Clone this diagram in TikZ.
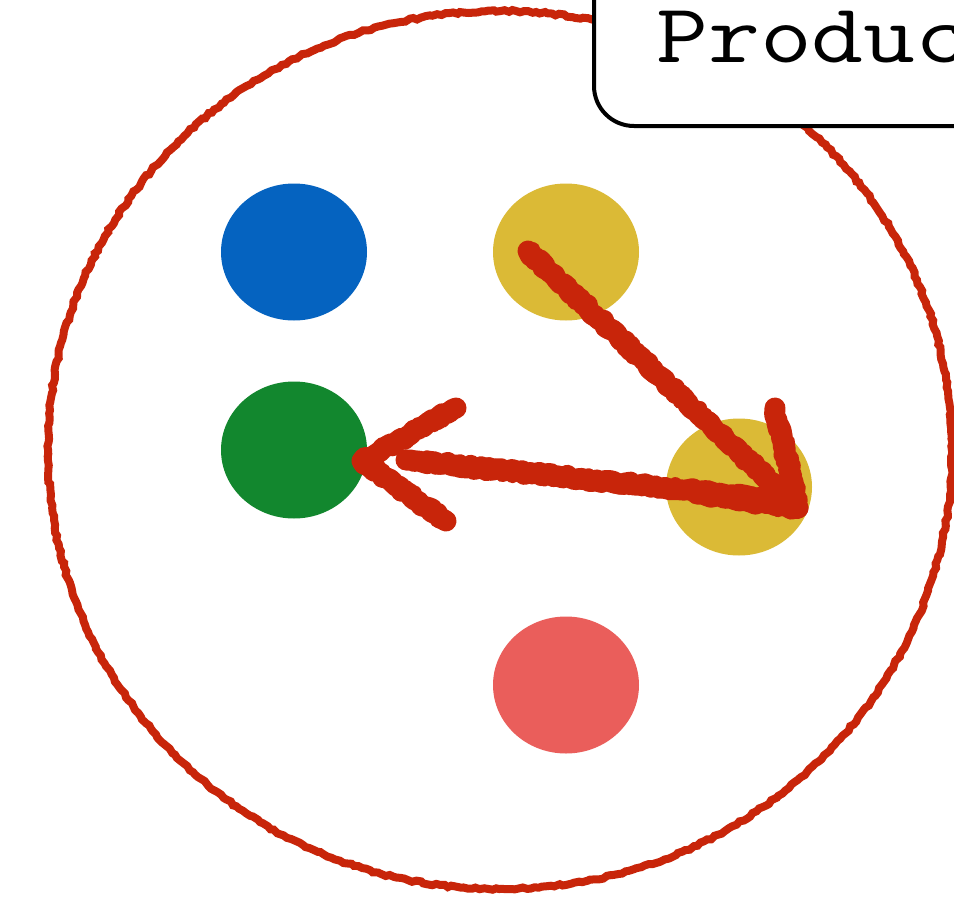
\documentclass[tikz,border=0pt]{standalone}
\usepackage{fontspec}
\usetikzlibrary{shapes.geometric,decorations.pathmorphing,calc}
\definecolor{dotblue}{RGB}{5,99,192}
\definecolor{dotyellow}{RGB}{219,186,54}
\definecolor{dotgreen}{RGB}{18,135,46}
\definecolor{dotpink}{RGB}{234,94,91}
\definecolor{chalkred}{RGB}{200,37,10}
\begin{document}
\begin{tikzpicture}[x=1pt,y=-1pt,
  dot/.style={ellipse,minimum width=146pt,minimum height=137pt,inner sep=0pt,draw=none},
  ringline/.style={draw=chalkred,line width=8pt,decorate,decoration={random steps,segment length=4pt,amplitude=1.1pt}},
  chalk/.style={draw=chalkred,line width=21pt,line cap=round,line join=round,decorate,decoration={random steps,segment length=4pt,amplitude=2pt}},
  chalkedge/.style={draw=chalkred,line width=14pt,line cap=round,line join=round,decorate,decoration={random steps,segment length=3pt,amplitude=5pt}},
  labelbox/.style={draw=black,line width=4pt,fill=white,rounded corners=40pt,minimum width=500pt,minimum height=220pt,inner sep=0pt}]
\useasboundingbox (0,0) rectangle (954,897);
\clip (0,0) rectangle (954,897);
\fill[white] (0,0) rectangle (954,897);
% big ring
\draw[ringline] (500,450) ellipse [x radius=452, y radius=439];
% dots
\node[dot,fill=dotblue] (blue) at (294,252) {};
\node[dot,fill=dotyellow] (ytop) at (566,252) {};
\node[dot,fill=dotgreen] (green) at (294,450) {};
\node[dot,fill=dotyellow] (yright) at (739,487) {};
\node[dot,fill=dotpink] (pink) at (566,685) {};
% arrow 1: top yellow -> right yellow
\coordinate (a1s) at (528,251);
\coordinate (a1t) at (798,508);
\coordinate (a1w1) at (775,408);
\coordinate (a1w2) at (697,494);
\draw[chalk] (a1s) -- (a1t);
\draw[chalk] (a1w1) -- (a1t) -- (a1w2);
\draw[chalkedge] (a1s) -- (a1t);
\draw[chalkedge] (a1w1) -- (a1t) -- (a1w2);
% arrow 2: right yellow -> green
\coordinate (a2s) at (788,501);
\coordinate (a2e) at (406,460);
\coordinate (a2t) at (362,461);
\coordinate (a2w1) at (456,408);
\coordinate (a2w2) at (446,521);
\draw[chalk] (a2s) -- (a2e);
\draw[chalk] (a2w1) -- (a2t) -- (a2w2);
\draw[chalkedge] (a2s) -- (a2e);
\draw[chalkedge] (a2w1) -- (a2t) -- (a2w2);
% label box
\node[labelbox,anchor=south west] (box) at (592,128) {};
\node[anchor=base west,inner sep=0pt] (label) at (656,62) {\scalebox{1.2}[1]{\ttfamily\fontsize{84}{84}\selectfont Produc}};
\end{tikzpicture}
\end{document}
